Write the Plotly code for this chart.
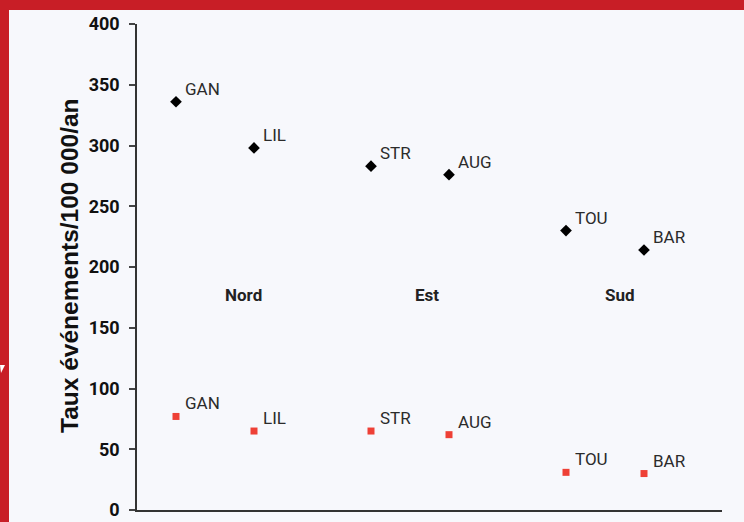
import plotly.graph_objects as go

# ---- data ----
sites = ["GAN", "LIL", "STR", "AUG", "TOU", "BAR"]
site_x = [1, 3, 6, 8, 11, 13]
black_values = [336, 298, 283, 276, 230, 214]
red_values = [77, 65, 65, 62, 31, 30]
groups = ["Nord", "Est", "Sud"]
y_ticks = [0, 50, 100, 150, 200, 250, 300, 350, 400]
y_title = "Taux événements/100 000/an"

W, H = 744, 522
ML, MR, MT, MB = 137, 22, 24, 12
PW, PH = W - ML - MR, H - MT - MB

def px(x):
    return (x - ML) / PW

def py(y):
    return (H - MB - y) / PH

BG = "#f7f8fc"
RED = "#c81e26"

fig = go.Figure()

fig.add_trace(go.Scatter(
    x=site_x, y=black_values, mode="markers",
    marker=dict(symbol="diamond", size=9, color="#000000"),
    showlegend=False, hoverinfo="skip"))
fig.add_trace(go.Scatter(
    x=site_x, y=red_values, mode="markers",
    marker=dict(symbol="square", size=7, color="#ee4036"),
    showlegend=False, hoverinfo="skip"))

annotations = []
for vals in (black_values, red_values):
    for s, x, v in zip(sites, site_x, vals):
        annotations.append(dict(
            x=x, y=v, xref="x", yref="y", text=s, showarrow=False,
            xanchor="left", yanchor="bottom", xshift=7, yshift=1,
            font=dict(family="Roboto", size=17, color="#2b2b2b")))

group_pos = [2.72, 7.44, 12.38]
for g, gx in zip(groups, group_pos):
    annotations.append(dict(
        x=gx, y=177, xref="x", yref="y", text="<b>%s</b>" % g,
        showarrow=False, xanchor="center", yanchor="middle",
        font=dict(family="Roboto", size=17, color="#222222")))

annotations.append(dict(
    x=px(69), y=py(266), xref="paper", yref="paper", text="<b>%s</b>" % y_title,
    showarrow=False, textangle=-90, xanchor="center", yanchor="middle",
    font=dict(family="Liberation Sans", size=24.5, color="#111111")))

shapes = [
    dict(type="rect", xref="paper", yref="paper", x0=px(0), x1=px(W), y0=py(10), y1=py(0),
         fillcolor=RED, line=dict(width=0), layer="below"),
    dict(type="rect", xref="paper", yref="paper", x0=px(0), x1=px(9), y0=py(H), y1=py(0),
         fillcolor=RED, line=dict(width=0), layer="below"),
    dict(type="path", xref="paper", yref="paper",
         path="M %f %f L %f %f L %f %f Z" % (px(0), py(365), px(5), py(365), px(1), py(373)),
         fillcolor="#ffffff", line=dict(width=0), layer="below"),
]

fig.update_layout(
    width=W, height=H, autosize=False,
    margin=dict(l=ML, r=MR, t=MT, b=MB, pad=0, autoexpand=False),
    paper_bgcolor=BG, plot_bgcolor=BG,
    annotations=annotations, shapes=shapes,
    xaxis=dict(range=[0, 15], showgrid=False, zeroline=False, showticklabels=False,
               ticks="", showline=True, linecolor="#333333", linewidth=1.5,
               automargin=False, fixedrange=True),
    yaxis=dict(range=[0, 400], tickvals=y_ticks, showgrid=False, zeroline=False,
               ticks="outside", ticklen=6, tickwidth=1.5, tickcolor="#444444",
               showline=True, linecolor="#333333", linewidth=1.5,
               ticklabelstandoff=6, automargin=False,
               tickfont=dict(family="Roboto", size=18, color="#111111", weight="bold"),
               fixedrange=True),
)

post = (
    "document.documentElement.style.margin='0';"
    "document.body.style.margin='0';"
    "document.body.style.background='%s';"
) % BG

fig.write_html("out.html", config={"displayModeBar": False}, post_script=post)
